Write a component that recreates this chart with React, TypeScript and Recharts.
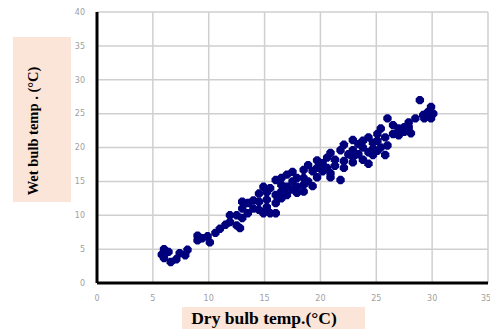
import React from "react";
import { ScatterChart, Scatter, XAxis, YAxis, CartesianGrid } from "recharts";

const dryBulb = [
  5.8, 6.0, 6.0, 6.4, 6.6, 7.1, 7.4, 7.9, 8.1,
  9.0, 9.0, 9.4, 9.9, 10.1, 10.6, 11.0, 11.5, 11.9, 11.9,
  12.5, 12.5, 12.8, 13.0, 13.0, 13.0, 13.5, 13.5, 14.0, 14.0,
  14.5, 14.5, 14.5, 14.9, 14.9, 15.2, 15.2, 15.2, 15.5, 15.5,
  16.0, 16.0, 16.0, 16.0, 16.5, 16.5, 16.5, 16.5, 17.0, 17.0, 17.0,
  17.5, 17.5, 17.5, 17.9, 17.9, 17.9, 18.5, 18.5, 18.5, 18.5,
  18.9, 18.9, 19.3, 19.3, 19.7, 19.7, 19.7, 20.2, 20.2, 20.6, 20.6,
  20.9, 20.9, 20.9, 21.3, 21.3, 21.8, 21.8, 22.1, 22.1, 22.1,
  22.5, 22.9, 22.9, 22.9, 22.9, 23.4, 23.4, 23.8, 23.8, 23.8,
  24.3, 24.3, 24.3, 24.7, 24.7, 24.7, 25.1, 25.1, 25.1, 25.4, 25.4,
  25.8, 25.8, 26.0, 26.0, 26.5, 26.5, 27.0, 27.0, 27.5, 27.5,
  27.9, 27.9, 28.1, 28.5, 28.9, 29.2, 29.3, 29.6, 29.9, 29.9, 30.1,
];

const wetBulb = [
  4.2, 5.0, 3.7, 4.6, 3.1, 3.5, 4.4, 4.1, 4.9,
  7.0, 6.3, 6.6, 6.9, 6.0, 7.4, 8.0, 8.6, 9.0, 10.0,
  10.0, 8.5, 8.1, 12.0, 11.0, 9.6, 11.8, 10.3, 12.2, 11.0,
  13.2, 10.8, 12.0, 14.2, 10.3, 13.4, 12.3, 11.2, 14.0, 10.3,
  15.2, 13.0, 11.8, 10.3, 15.5, 14.5, 13.5, 12.5, 16.0, 14.2, 13.0,
  16.4, 15.0, 13.8, 15.5, 14.2, 13.3, 16.7, 15.5, 14.5, 13.5,
  17.4, 15.0, 16.5, 14.3, 18.1, 17.0, 15.6, 17.7, 16.5, 17.0, 18.5,
  19.2, 16.2, 15.6, 18.2, 17.3, 19.6, 15.2, 20.4, 18.0, 17.0,
  19.0, 21.1, 19.6, 18.6, 17.8, 20.5, 19.0, 21.0, 20.0, 18.2,
  21.5, 19.3, 17.6, 20.7, 19.8, 18.9, 22.0, 21.0, 19.5, 22.8, 20.0,
  18.9, 21.5, 24.3, 20.3, 23.3, 22.0, 22.8, 21.8, 23.0, 22.3,
  23.7, 23.0, 22.1, 24.3, 27.0, 24.8, 24.3, 25.2, 26.0, 24.3, 25.0,
];

const xTicks = [0, 5, 10, 15, 20, 25, 30, 35];
const yTicks = [0, 5, 10, 15, 20, 25, 30, 35, 40];

const points = dryBulb.map((d, i) => ({ dry: d, wet: wetBulb[i] }));

const Marker = (props: any) => {
  const { cx, cy } = props;
  const r = 4.2;
  const s = 1.6;
  return (
    <path
      d={`M${cx - s},${cy - r}L${cx + s},${cy - r}L${cx + r},${cy - s}L${cx + r},${cy + s}L${cx + s},${cy + r}L${cx - s},${cy + r}L${cx - r},${cy + s}L${cx - r},${cy - s}Z`}
      fill="#00007c"
    />
  );
};

const tickStyle = { fontSize: 8, fill: "#a0a0a0", fontFamily: "DejaVu Sans" };

export default function App() {
  return (
    <div style={{ position: "absolute", left: 0, top: 0, width: 490, height: 329, background: "#fff" }}>
      <div
        style={{
          position: "absolute",
          left: 13,
          top: 37,
          width: 58,
          height: 165,
          background: "#fbe4d8",
        }}
      />
      <div
        style={{
          position: "absolute",
          left: 33,
          top: 131,
          transform: "translate(-50%, -50%) rotate(-90deg)",
          whiteSpace: "nowrap",
          fontFamily: "Liberation Serif",
          fontWeight: "bold",
          fontSize: 14.5,
          color: "#000",
        }}
      >
        Wet bulb temp . (°C)
      </div>
      <div
        style={{
          position: "absolute",
          left: 182,
          top: 307,
          width: 183,
          height: 22,
          background: "#fbe4d8",
        }}
      />
      <div
        style={{
          position: "absolute",
          left: 264,
          top: 318,
          transform: "translate(-50%, -50%)",
          whiteSpace: "nowrap",
          fontFamily: "Liberation Serif",
          fontWeight: "bold",
          fontSize: 17.5,
          color: "#000",
        }}
      >
        Dry bulb temp.(°C)
      </div>
      <div style={{ position: "absolute", left: 0, top: 0 }}>
        <ScatterChart width={490} height={329} margin={{ top: 12, right: 2, left: 0, bottom: 0 }}>
          <CartesianGrid stroke="#cfcfcf" strokeWidth={1.5} />
          <XAxis
            type="number"
            dataKey="dry"
            domain={[0, 35]}
            ticks={xTicks}
            height={46}
            tickLine={false}
            axisLine={{ stroke: "#000", strokeWidth: 3 }}
            tick={tickStyle}
            tickMargin={6}
          />
          <YAxis
            type="number"
            dataKey="wet"
            domain={[0, 40]}
            ticks={yTicks}
            width={97}
            tickLine={false}
            axisLine={{ stroke: "#000", strokeWidth: 3 }}
            tick={tickStyle}
            tickMargin={6}
          />
          <Scatter data={points} shape={Marker} isAnimationActive={false} />
        </ScatterChart>
      </div>
    </div>
  );
}
